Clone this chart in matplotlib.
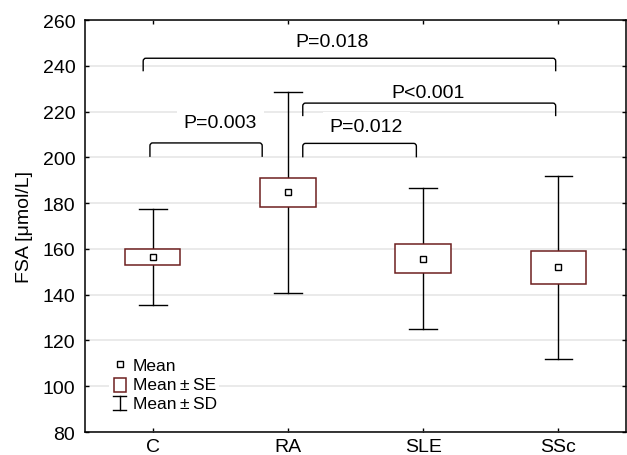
import matplotlib
matplotlib.use('Agg')
import matplotlib.pyplot as plt
from matplotlib.path import Path
from matplotlib.patches import PathPatch, Rectangle
from matplotlib.lines import Line2D
from matplotlib.legend_handler import HandlerBase

plt.rcParams['font.family'] = ['Liberation Sans', 'DejaVu Sans']

groups = ['C', 'RA', 'SLE', 'SSc']
means = [156.6, 184.7, 155.4, 151.9]
se_low = [153.0, 178.3, 149.4, 144.5]
se_high = [160.0, 190.8, 162.2, 158.9]
sd_low = [135.6, 140.8, 124.8, 111.7]
sd_high = [177.5, 228.4, 186.6, 191.7]

# brackets: (x_left, x_right, y_top, y_leg_bottom, label, label_x, label_y)
brackets = [
    (-0.02, 0.81, 206.3, 200.2, 'P=0.003', 0.50, 215.3),
    (1.11, 1.95, 206.1, 200.0, 'P=0.012', 1.58, 213.3),
    (1.11, 2.98, 223.7, 218.0, 'P<0.001', 2.04, 228.4),
    (-0.07, 2.98, 243.3, 237.6, 'P=0.018', 1.33, 250.8),
]

box_edge = '#6e1f1f'

fig = plt.figure(figsize=(6.27, 4.56), dpi=100)
ax = fig.add_axes([0.1356, 0.0504, 0.8628, 0.9035])

box_w = 0.41
cap_w = 0.205
for i in range(len(groups)):
    ax.plot([i, i], [sd_low[i], sd_high[i]], color='black', lw=1.0, zorder=2)
    ax.plot([i - cap_w / 2, i + cap_w / 2], [sd_low[i]] * 2, color='black', lw=1.0, zorder=2)
    ax.plot([i - cap_w / 2, i + cap_w / 2], [sd_high[i]] * 2, color='black', lw=1.0, zorder=2)
    ax.add_patch(Rectangle((i - box_w / 2, se_low[i]), box_w, se_high[i] - se_low[i],
                           facecolor='white', edgecolor=box_edge, lw=1.1, zorder=3))
    ax.plot(i, means[i], marker='s', ms=4.5, mfc='white', mec='black', mew=1.0, zorder=4)


def draw_bracket(x1, x2, ytop, ybot, rx=0.02, ry=1.3):
    verts = [(x1, ybot), (x1, ytop - ry), (x1, ytop), (x1 + rx, ytop),
             (x2 - rx, ytop), (x2, ytop), (x2, ytop - ry), (x2, ybot)]
    codes = [Path.MOVETO, Path.LINETO, Path.CURVE3, Path.CURVE3,
             Path.LINETO, Path.CURVE3, Path.CURVE3, Path.LINETO]
    ax.add_patch(PathPatch(Path(verts, codes), facecolor='none', edgecolor='black', lw=1.0, zorder=6))


for x1, x2, yt, yb, lab, lx, ly in brackets:
    draw_bracket(x1, x2, yt, yb)
    ax.text(lx, ly, lab, ha='center', va='center', fontsize=14, zorder=5,
            bbox=dict(boxstyle='square,pad=0.35', facecolor='white', edgecolor='none'))

ax.set_xlim(-0.5, 3.5)
ax.set_ylim(80, 260)
ax.set_xticks(range(len(groups)))
ax.set_xticklabels(groups)
ax.set_yticks(range(80, 261, 20))
ax.tick_params(direction='in', length=3, width=1, labelsize=14, top=True, right=True,
               labeltop=False, labelright=False)
ax.tick_params(axis='x', pad=4)
ax.tick_params(axis='y', pad=7)
ax.yaxis.grid(True, color='#e6e6e6', lw=1.2, zorder=0)
ax.set_axisbelow(True)
for s in ax.spines.values():
    s.set_linewidth(1.1)
ax.set_ylabel('FSA [μmol/L]', fontsize=14, labelpad=7)


class IBeamHandler(HandlerBase):
    def create_artists(self, legend, orig_handle, xdescent, ydescent, width, height, fontsize, trans):
        cx = width / 2 - xdescent
        y0 = -ydescent - 1.5
        y1 = height - ydescent - 0.5
        w = 4.6
        return [Line2D([cx, cx], [y0, y1], color='black', lw=1.0, transform=trans),
                Line2D([cx - w, cx + w], [y0, y0], color='black', lw=1.0, transform=trans),
                Line2D([cx - w, cx + w], [y1, y1], color='black', lw=1.0, transform=trans)]


class BoxHandler(HandlerBase):
    def create_artists(self, legend, orig_handle, xdescent, ydescent, width, height, fontsize, trans):
        cx = width / 2 - xdescent
        r = Rectangle((cx - 4.5, -ydescent - 2.5), 9.0, 10.5, facecolor='white',
                      edgecolor=box_edge, lw=1.1, transform=trans)
        return [r]


h_mean = Line2D([], [], ls='none', marker='s', ms=4.5, mfc='white', mec='black', mew=1.0)
h_se = Rectangle((0, 0), 1, 1)
h_sd = Line2D([], [])
leg = ax.legend([h_mean, h_se, h_sd], ['Mean', 'Mean\u2009±\u2009SE', 'Mean\u2009±\u2009SD'],
                handler_map={Rectangle: BoxHandler(), h_sd: IBeamHandler()},
                loc='lower left', bbox_to_anchor=(0.045, 0.048), fontsize=12.5,
                frameon=True, framealpha=1, edgecolor='none', facecolor='white',
                handlelength=1.0, handletextpad=0.25, labelspacing=0.2, borderpad=0.1,
                borderaxespad=0)

fig.savefig('out.png', dpi=100)
